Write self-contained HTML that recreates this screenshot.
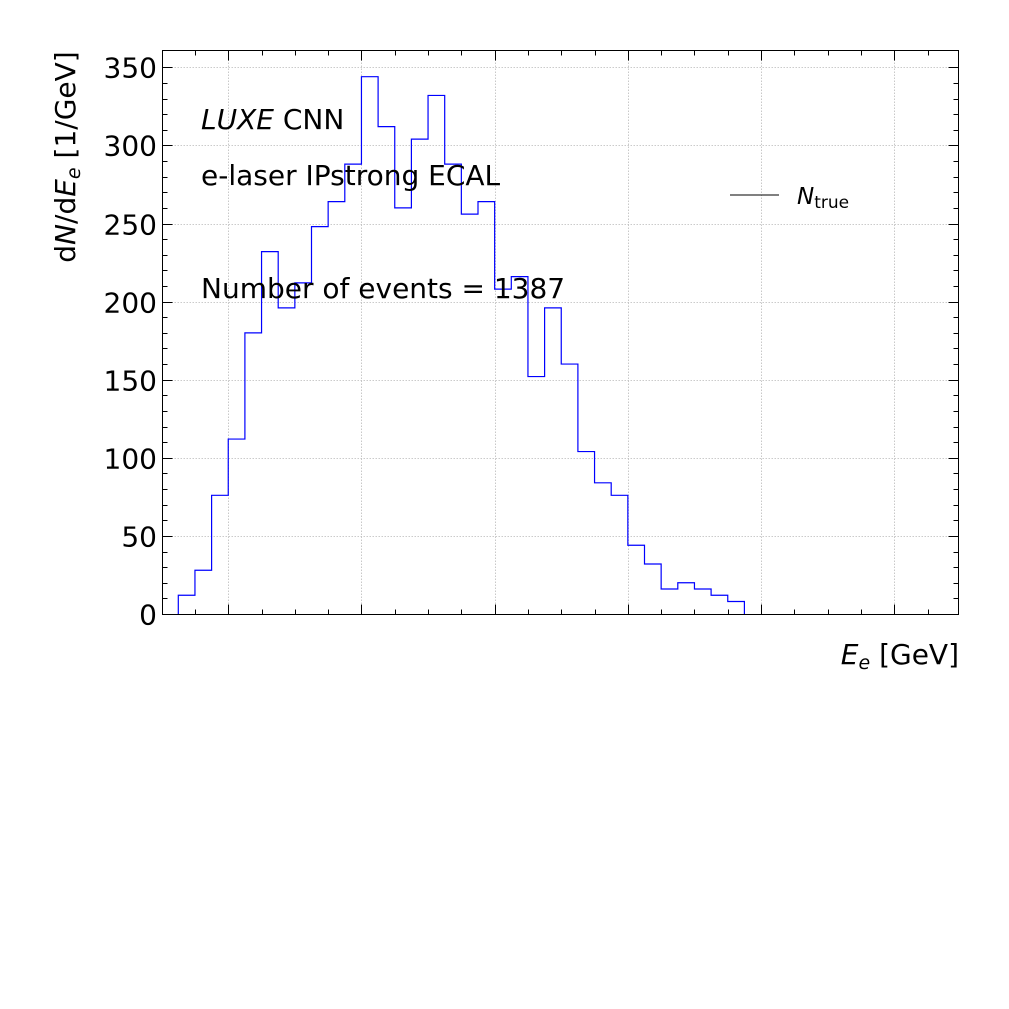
<!DOCTYPE html>
<html><head><meta charset="utf-8"><style>
html,body{margin:0;padding:0;background:#fff;}
svg{display:block;font-family:"DejaVu Sans","Liberation Sans",sans-serif;}
</style></head><body>
<svg id="chart" width="1009" height="1009" viewBox="0 0 1009 1009" xmlns="http://www.w3.org/2000/svg">
<rect x="0" y="0" width="1009" height="1009" fill="#fff"/>
<g id="grid"></g>
<g id="hist"></g>
<rect x="162.5" y="50.5" width="796" height="564" fill="none" stroke="#000" stroke-width="1"/>
<g id="ticks"></g>
<text x="201" y="129" font-size="28"><tspan font-style="italic">LUXE</tspan> CNN</text>
<text x="201" y="185" font-size="28">e-laser IPstrong ECAL</text>
<text x="201" y="298" font-size="28">Number of events = 1387</text>
<line x1="730" y1="195" x2="779" y2="195" stroke="#000" stroke-width="1"/>
<text x="797" y="204" font-size="23"><tspan font-style="italic">N</tspan><tspan font-size="17" dy="4">true</tspan></text>
<text x="959" y="664" font-size="28" text-anchor="end"><tspan font-style="italic">E</tspan><tspan font-style="italic" font-size="19" dy="5">e</tspan><tspan dy="-5"> [GeV]</tspan></text>
<text transform="translate(75,157) rotate(-90)" font-size="28" text-anchor="middle">d<tspan font-style="italic">N</tspan>/d<tspan font-style="italic">E</tspan><tspan font-style="italic" font-size="19" dy="5">e</tspan><tspan dy="-5"> [1/GeV]</tspan></text>
</svg>
<script>
const binValues = [12,28,76,112,180,232,196,212,248,264,288,344,312,260,304,332,288,256,264,208,216,152,196,160,104,84,76,44,32,16,20,16,12,8];
const yTicks = [0,50,100,150,200,250,300,350];
const yTickLabels = ["0","50","100","150","200","250","300","350"];
const xMajorTicks = [3,11,19,27,35,43];
const NS='http://www.w3.org/2000/svg';
const X0=162.5, X1=958.5, Y0=614.5, binW=16.65, firstEdge=178.3;
const xb = i => firstEdge + i*binW;
const y = v => 614 - v*1.562;
function mk(tag, attrs, parent){const e=document.createElementNS(NS,tag);for(const k in attrs)e.setAttribute(k,attrs[k]);parent.appendChild(e);return e;}
const grid=document.getElementById('grid'), ticks=document.getElementById('ticks'), hist=document.getElementById('hist');
yTicks.forEach((v,i)=>{
  const yy=Math.round(y(v))+0.5;
  if(v>0){const g=mk('line',{x1:X0,x2:X1,y1:yy,y2:yy,stroke:'#bbb','stroke-width':0.8,'stroke-dasharray':'1.5,1.5'},grid);
  
  }
  const t=mk('line',{x1:X0,x2:X0+10,y1:yy,y2:yy,stroke:'#000'},ticks);
  
  
  const t2=mk('line',{x1:X1,x2:X1-10,y1:yy,y2:yy,stroke:'#000'},ticks);
  
  
  const l=mk('text',{x:157,y:yy+10,'font-size':28,'text-anchor':'end'},ticks);
  l.textContent=yTickLabels[i];
  
  
});
for(let v=10;v<360;v+=10){ if(v%50===0) continue;
  const yy=Math.round(y(v))+0.5;
  const t=mk('line',{x1:X0,x2:X0+5,y1:yy,y2:yy,stroke:'#000'},ticks);
  
  
  const t2=mk('line',{x1:X1,x2:X1-5,y1:yy,y2:yy,stroke:'#000'},ticks);
  
  
}
for(let k=-1;k<=46;k+=2){
  const xx=Math.round(xb(k))+0.5;
  if(xx<=X0||xx>=X1) continue;
  const major=xMajorTicks.includes(k);
  if(major){const g=mk('line',{x1:xx,x2:xx,y1:50.5,y2:Y0,stroke:'#bbb','stroke-width':0.8,'stroke-dasharray':'1.5,1.5'},grid);
  
  }
  const L=major?10:5;
  const t=mk('line',{x1:xx,x2:xx,y1:Y0,y2:Y0-L,stroke:'#000'},ticks);
  
  
  const t2=mk('line',{x1:xx,x2:xx,y1:50.5,y2:50.5+L,stroke:'#000'},ticks);
  
  
}
let d='M'+xb(0)+' '+y(0);
binValues.forEach((v,i)=>{ d+=' L'+xb(i)+' '+y(v)+' L'+xb(i+1)+' '+y(v); });
d+=' L'+xb(binValues.length)+' '+y(0);
const p=mk('path',{d:d,fill:'none',stroke:'#0000ff','stroke-width':1.2},hist);


</script>
</body></html>
